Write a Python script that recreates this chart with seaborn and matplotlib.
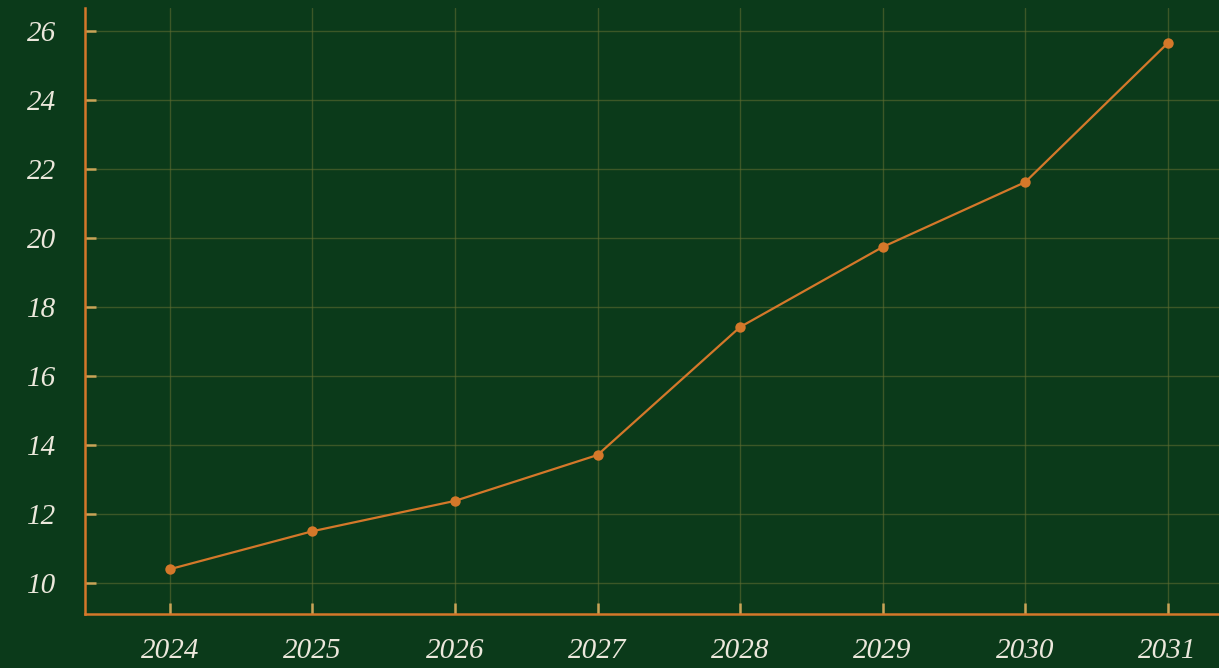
import matplotlib
matplotlib.use("Agg")
import matplotlib.pyplot as plt
import seaborn as sns
import pandas as pd

years = [2024, 2025, 2026, 2027, 2028, 2029, 2030, 2031]
values = [10.4, 11.5, 12.38, 13.71, 17.42, 19.74, 21.62, 25.65]
y_ticks = [10, 12, 14, 16, 18, 20, 22, 24, 26]

sns.set_theme(style="white")
plt.rcParams['font.family'] = ['Liberation Serif', 'DejaVu Serif']

BG = "#0b3a1a"
ORANGE = "#d4782a"
GRID = "#5e6c30"
TICK = "#c9a457"
TEXT = "#ece8dc"

df = pd.DataFrame({"year": years, "value": values})

fig = plt.figure(figsize=(12.19, 6.68), dpi=100, facecolor=BG)
ax = fig.add_axes([85/1219, 1 - 614/668, (1219 - 85)/1219, (614 - 8)/668])
ax.set_facecolor(BG)

sns.lineplot(data=df, x="year", y="value", ax=ax, color=ORANGE, linewidth=1.6,
             marker="o", markersize=7.5, markeredgewidth=0, markerfacecolor=ORANGE)

ax.set_xlim(2023.404, 2031.36)
ax.set_ylim(9.10, 26.67)
ax.set_xticks(years)
ax.set_yticks(y_ticks)
ax.set_xticklabels([str(y) for y in years])
ax.set_yticklabels([str(v) for v in y_ticks])
ax.set_xlabel("")
ax.set_ylabel("")

ax.grid(True, color=GRID, linewidth=1, alpha=0.6)
ax.set_axisbelow(True)

for s in ["top", "right"]:
    ax.spines[s].set_visible(False)
for s in ["left", "bottom"]:
    ax.spines[s].set_color(ORANGE)
    ax.spines[s].set_linewidth(1.8)

ax.tick_params(axis="both", direction="in", length=8, width=1.8, color=TICK,
               labelcolor=TEXT, labelsize=21, bottom=True, left=True)
ax.tick_params(axis="x", pad=17.5)
ax.tick_params(axis="y", pad=20.5)
for lab in ax.get_xticklabels() + ax.get_yticklabels():
    lab.set_fontstyle("italic")

fig.savefig("out.png", dpi=100, facecolor=BG)
